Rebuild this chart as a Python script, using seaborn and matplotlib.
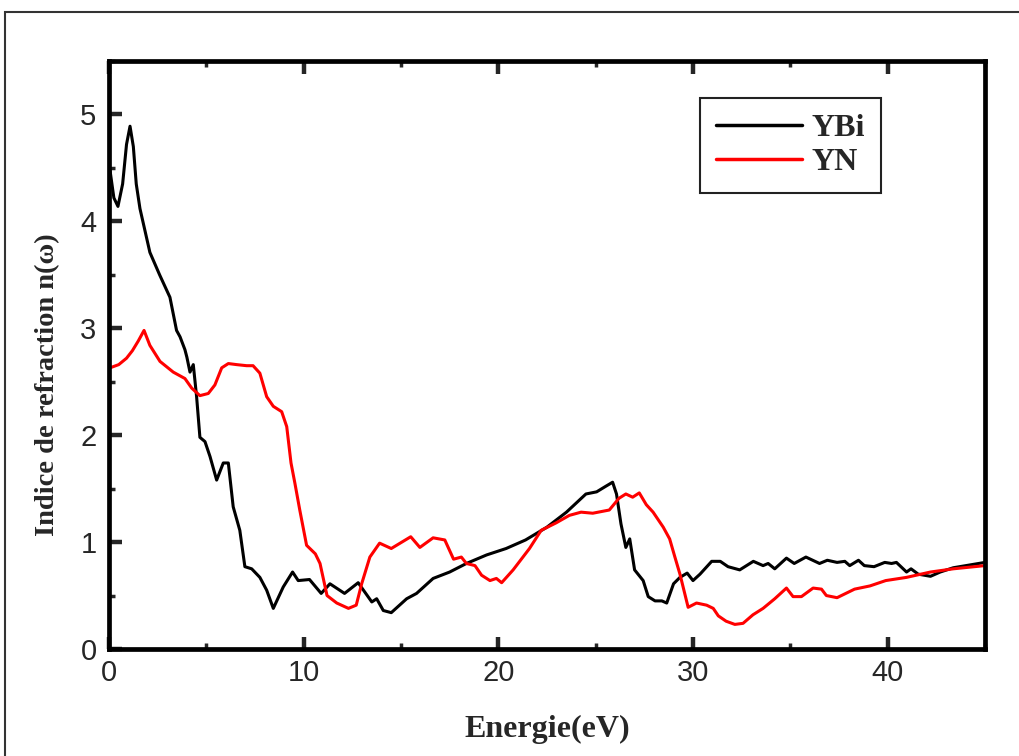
import numpy as np
import pandas as pd
import matplotlib
matplotlib.use("Agg")
import matplotlib.pyplot as plt
import seaborn as sns
from matplotlib.patches import Rectangle
from matplotlib.ticker import MultipleLocator

# ---- data ----
ybi_energy = [0.05, 0.25, 0.46, 0.7, 0.9, 1.08, 1.25, 1.4, 1.59, 2.1, 2.6, 3.13, 3.47, 3.65, 3.9,
              4.0, 4.16, 4.33, 4.5, 4.67,
              4.93, 5.19, 5.53, 5.87, 6.13, 6.38, 6.72, 6.98, 7.33, 7.75, 8.1, 8.44, 8.95,
              9.43, 9.72, 10.3, 10.9, 11.35, 12.1, 12.8, 13.5, 13.75, 14.09, 14.5, 15.29,
              15.8, 16.65, 17.5, 18.36, 19.4, 20.4, 21.4, 22.5, 23.5, 24.5, 25.05, 25.5,
              25.87, 26.07, 26.3, 26.55, 26.75, 27.0, 27.44, 27.7, 28.05, 28.4, 28.65,
              29.0, 29.33, 29.7, 30.0, 30.36, 30.96, 31.4, 31.8, 32.4, 33.1, 33.6, 33.86,
              34.2, 34.8, 35.2, 35.8, 36.5, 36.9, 37.4, 37.8, 38.05, 38.5, 38.8, 39.3,
              39.85, 40.2, 40.45, 40.97, 41.2, 41.57, 42.2, 42.7, 43.37, 45.0]
ybi_n = [4.48, 4.22, 4.14, 4.35, 4.72, 4.89, 4.7, 4.35, 4.12, 3.71, 3.5, 3.29, 2.98, 2.92, 2.80,
         2.73, 2.59, 2.66, 2.36, 1.98,
         1.94, 1.80, 1.58, 1.74, 1.74, 1.33, 1.11, 0.77, 0.75, 0.67, 0.55, 0.38, 0.58,
         0.72, 0.64, 0.65, 0.52, 0.61, 0.52, 0.62, 0.44, 0.47, 0.36, 0.34, 0.47,
         0.52, 0.66, 0.72, 0.80, 0.88, 0.94, 1.02, 1.14, 1.28, 1.45, 1.47, 1.52,
         1.56, 1.45, 1.17, 0.95, 1.03, 0.74, 0.64, 0.49, 0.45, 0.45, 0.43,
         0.61, 0.67, 0.71, 0.64, 0.70, 0.82, 0.82, 0.77, 0.74, 0.82, 0.78, 0.80,
         0.75, 0.85, 0.80, 0.86, 0.80, 0.83, 0.81, 0.82, 0.78, 0.83, 0.78, 0.77,
         0.81, 0.80, 0.81, 0.72, 0.75, 0.70, 0.68, 0.72, 0.76, 0.81]

yn_energy = [0.05, 0.5, 0.9, 1.2, 1.5, 1.8, 2.1, 2.62, 3.3, 3.9, 4.25, 4.67, 5.1, 5.44, 5.79,
             6.13, 6.56,
             7.07, 7.4, 7.75, 8.1, 8.44, 8.87, 9.13, 9.35, 9.55, 9.8, 10.15, 10.6, 10.84,
             11.2, 11.7, 12.3, 12.7, 12.98, 13.4, 13.9, 14.5, 15.5, 15.97, 16.65, 17.25,
             17.7, 18.1, 18.36, 18.8, 19.14, 19.57, 19.9, 20.17, 20.76, 21.6, 22.2, 22.97,
             23.65, 24.25, 24.85, 25.7, 26.2, 26.55, 26.9, 27.24, 27.6, 27.95, 28.47, 28.8,
             29.07, 29.33, 29.75, 30.18, 30.7, 31.04, 31.3, 31.7, 32.15, 32.57, 33.08, 33.6,
             34.2, 34.8, 35.14, 35.57, 36.17, 36.6, 36.85, 37.4, 38.3, 39.09, 39.9, 40.97,
             42.2, 43.37, 45.0]
yn_n = [2.63, 2.66, 2.72, 2.79, 2.88, 2.98, 2.84, 2.69, 2.59, 2.53, 2.44, 2.37, 2.39, 2.47, 2.63,
        2.67, 2.66,
        2.65, 2.65, 2.58, 2.36, 2.27, 2.22, 2.08, 1.74, 1.55, 1.30, 0.97, 0.89, 0.80,
        0.50, 0.43, 0.38, 0.41, 0.61, 0.86, 0.99, 0.94, 1.05, 0.95, 1.04, 1.02,
        0.84, 0.86, 0.80, 0.78, 0.69, 0.64, 0.66, 0.62, 0.74, 0.94, 1.11, 1.18,
        1.25, 1.28, 1.27, 1.30, 1.41, 1.45, 1.42, 1.46, 1.35, 1.28, 1.14, 1.03,
        0.86, 0.70, 0.39, 0.43, 0.41, 0.38, 0.31, 0.26, 0.23, 0.24, 0.32, 0.38,
        0.47, 0.57, 0.49, 0.49, 0.57, 0.56, 0.50, 0.48, 0.56, 0.59, 0.64, 0.67,
        0.72, 0.75, 0.78]

series_names = ["YBi", "YN"]
series_colors = ["#000000", "#ff0000"]
x_ticks = [0, 10, 20, 30, 40]
y_ticks = [0, 1, 2, 3, 4, 5]

df = pd.concat([
    pd.DataFrame({"E": ybi_energy, "n": ybi_n, "mat": "YBi"}),
    pd.DataFrame({"E": yn_energy, "n": yn_n, "mat": "YN"}),
], ignore_index=True)

sns.set_style("ticks")
plt.rcParams["font.family"] = ["Liberation Sans", "DejaVu Sans"]

W, H = 1019, 756
fig = plt.figure(figsize=(W / 100, H / 100), dpi=100)
ax = fig.add_axes([109 / W, 1 - 649 / H, (985 - 109) / W, (649 - 61) / H])

sns.lineplot(data=df, x="E", y="n", hue="mat", hue_order=series_names,
             palette=dict(zip(series_names, series_colors)), sort=False,
             estimator=None, linewidth=2.2, ax=ax)
for ln in ax.get_lines():
    ln.set_solid_joinstyle("round")

ax.set_xlim(0, 45)
ax.set_ylim(0, 5.5)
ax.set_xticks(x_ticks)
ax.set_yticks(y_ticks)
ax.xaxis.set_minor_locator(MultipleLocator(5))
ax.yaxis.set_minor_locator(MultipleLocator(0.5))
ax.tick_params(which="major", direction="in", length=9, width=3.2, labelsize=21,
               top=True, right=False)
ax.tick_params(axis="x", which="major", pad=7)
ax.tick_params(axis="y", which="major", pad=9)
ax.tick_params(which="minor", direction="in", length=4, width=2.5, top=True, right=False)
for s in ax.spines.values():
    s.set_linewidth(3.4)
    s.set_color("black")

serif = ["Liberation Serif", "DejaVu Serif"]
ax.set_xlabel("Energie(eV)", family=serif, weight="bold", size=23)
ax.set_ylabel("Indice de refraction n(ω)", family=serif, weight="bold", size=20.5)
ax.xaxis.set_label_coords(0.5, -(729 - 649) / (649 - 61), transform=ax.transAxes)
ax.xaxis.label.set_va("center")
ax.yaxis.set_label_coords(-(109 - 48) / (985 - 109), (649 - 385) / (649 - 61), transform=ax.transAxes)
ax.yaxis.label.set_va("center")

leg = ax.legend(loc="upper right", bbox_to_anchor=(881 / W, 1 - 98 / H),
                bbox_transform=fig.transFigure, borderaxespad=0,
                prop=dict(family=serif, weight="bold", size=23),
                handlelength=2.7, handletextpad=0.3, labelspacing=0.15,
                borderpad=0.5, fancybox=False, framealpha=1, edgecolor="#222222")
leg.get_frame().set_linewidth(1.5)
for line in leg.get_lines():
    line.set_linewidth(2.5)

# outer frame around the figure
fig.patches.append(Rectangle((5 / W, -0.1), 1.2, 1 - 12 / H + 0.1, transform=fig.transFigure,
                             fill=False, edgecolor="#333333", linewidth=1.5))

fig.savefig("out.png", dpi=100)
